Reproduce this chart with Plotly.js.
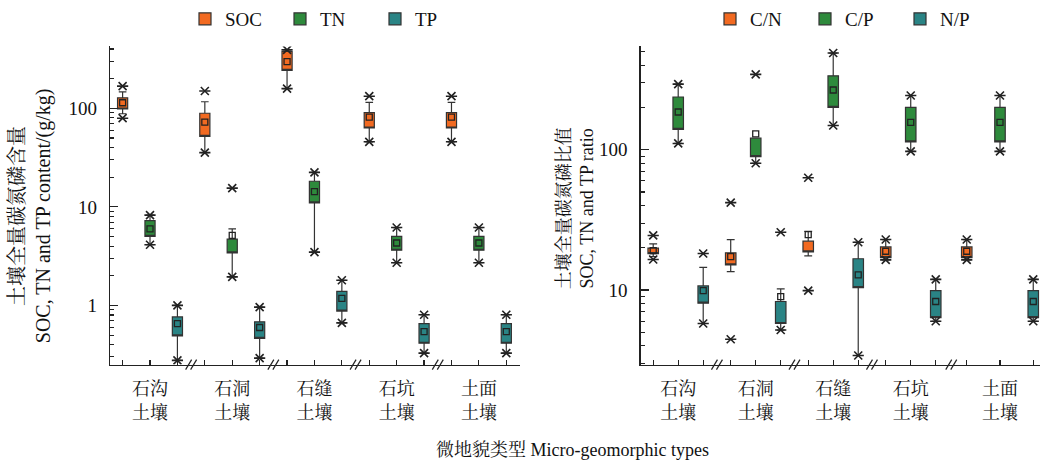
<!DOCTYPE html>
<html><head><meta charset="utf-8">
<script src="https://cdn.plot.ly/plotly-3.0.1.min.js"></script>
<style>html,body{margin:0;padding:0;background:#fff}#chart{width:1044px;height:462px}</style>
</head><body><div id="chart"></div>
<script>
// ---------- categories ----------
const categories = ['石沟<br>土壤', '石洞<br>土壤', '石缝<br>土壤', '石坑<br>土壤', '土面<br>土壤'];
const leftSeries = ['SOC', 'TN', 'TP'];
const rightSeries = ['C/N', 'C/P', 'N/P'];

// ---------- left panel: content (g/kg) ----------
const socQ1   = [98.4, 52.0, 242, 63.1, 63.1];
const socQ3   = [127.6, 89.1, 377, 90.4, 90.4];
const socLow  = [88.0, 35.5, 158.5, 45.7, 45.7];
const socHigh = [146.6, 116.5, 392, 114.8, 114.8];
const socMean = [113.8, 72.4, 297, 81.3, 81.3];
const socMax  = [168, 150, 392, 132.7, 132.7];
const socMin  = [79.4, 35.5, 158.5, 45.7, 45.7];

const tnQ1   = [5.01, 3.41, 11.0, 3.63, 3.63];
const tnQ3   = [7.24, 4.71, 18.2, 5.01, 5.01];
const tnLow  = [4.13, 1.95, 3.47, 2.71, 2.71];
const tnHigh = [8.24, 5.97, 22.4, 6.17, 6.17];
const tnMean = [5.97, 5.13, 14.3, 4.30, 4.30];
const tnMax  = [8.24, 15.5, 22.4, 6.17, 6.17];
const tnMin  = [4.13, 1.95, 3.47, 2.71, 2.71];

const tpQ1   = [0.490, 0.464, 0.877, 0.413, 0.413];
const tpQ3   = [0.764, 0.681, 1.39, 0.655, 0.655];
const tpLow  = [0.277, 0.292, 0.665, 0.328, 0.328];
const tpHigh = [1.00, 0.96, 1.80, 0.805, 0.805];
const tpMean = [0.655, 0.597, 1.18, 0.541, 0.541];
const tpMax  = [1.00, 0.96, 1.80, 0.805, 0.805];
const tpMin  = [0.277, 0.292, 0.665, 0.328, 0.328];

// ---------- right panel: ratios ----------
const cnQ1   = [18.2, 15.1, 18.7, 17.0, 17.0];
const cnQ3   = [19.9, 18.4, 22.3, 20.3, 20.3];
const cnLow  = [17.3, 13.5, 17.5, 16.4, 16.4];
const cnHigh = [21.3, 22.9, 26.2, 22.9, 22.9];
const cnMean = [19.1, 17.3, 24.8, 18.9, 18.9];
const cnMax  = [24.5, 42.0, 63.2, 22.9, 22.9];
const cnMin  = [16.5, 4.45, 9.9, 16.4, 16.4];

const cpQ1   = [140, 89.3, 201, 114, 114];
const cpQ3   = [238, 121, 337, 201, 201];
const cpLow  = [111, 80.2, 149, 97.5, 97.5];
const cpHigh = [294, 121, 490, 244, 244];
const cpMean = [186, 130, 267, 157, 157];
const cpMax  = [294, 345, 490, 244, 244];
const cpMin  = [111, 80.2, 149, 97.5, 97.5];

const npQ1   = [8.06, 5.77, 10.4, 6.35, 6.35];
const npQ3   = [10.7, 8.28, 16.7, 9.9, 9.9];
const npLow  = [5.77, 5.18, 3.41, 5.98, 5.98];
const npHigh = [14.5, 10.2, 21.9, 11.9, 11.9];
const npMean = [9.9, 8.98, 12.8, 8.28, 8.28];
const npMax  = [18.2, 25.8, 21.9, 11.9, 11.9];
const npMin  = [5.77, 5.18, 3.41, 5.98, 5.98];

// ---------- styling ----------
const colors = ['#F26A21', '#2E8A3C', '#2A8485'];
const FONT = '"Liberation Serif", "Noto Serif CJK SC", "Noto Sans CJK SC", serif';
const INK = '#222';

// group layout (position on numeric x axis)
const leftPos = (g, k) => g * 3 + k;
const rightStart = [0, 3.1, 6.2, 9.3, 12.54];
const rightStep = [1, 1, 1, 1, 1.33];
const rightPos = (g, k) => rightStart[g] + k * rightStep[g];

const traces = [];
function addSeries(name, k, posFn, xa, ya, leg, color, q1, q3, lo, hi, mean, mx, mn, width) {
  const xs = categories.map((_, g) => posFn(g, k));
  traces.push({
    type: 'box', name: name, x: xs, q1: q1, median: q1, q3: q3,
    lowerfence: lo, upperfence: hi, boxpoints: false, width: width,
    whiskerwidth: 0.75, fillcolor: color, line: {color: '#333', width: 1.2},
    xaxis: xa, yaxis: ya, legend: leg, hoverinfo: 'skip'
  });
  traces.push({
    type: 'scatter', mode: 'markers', x: xs, y: mean, showlegend: false,
    marker: {symbol: 'square-open', size: 6, color: INK, line: {width: 1.3, color: INK}},
    xaxis: xa, yaxis: ya, hoverinfo: 'skip'
  });
  const sx = xs.concat(xs), sy = mx.concat(mn);
  traces.push({
    type: 'scatter', mode: 'markers', x: sx, y: sy, showlegend: false,
    marker: {symbol: 'x-thin-open', size: 8, color: INK, line: {width: 1.6, color: INK}},
    xaxis: xa, yaxis: ya, hoverinfo: 'skip'
  });
  traces.push({
    type: 'scatter', mode: 'markers', x: sx, y: sy, showlegend: false,
    marker: {symbol: 'line-ew-open', size: 8, color: INK, line: {width: 1.6, color: INK}},
    xaxis: xa, yaxis: ya, hoverinfo: 'skip'
  });
}

addSeries(leftSeries[0], 0, leftPos, 'x', 'y', 'legend', colors[0], socQ1, socQ3, socLow, socHigh, socMean, socMax, socMin, 0.37);
addSeries(leftSeries[1], 1, leftPos, 'x', 'y', 'legend', colors[1], tnQ1, tnQ3, tnLow, tnHigh, tnMean, tnMax, tnMin, 0.37);
addSeries(leftSeries[2], 2, leftPos, 'x', 'y', 'legend', colors[2], tpQ1, tpQ3, tpLow, tpHigh, tpMean, tpMax, tpMin, 0.37);
addSeries(rightSeries[0], 0, rightPos, 'x2', 'y2', 'legend2', colors[0], cnQ1, cnQ3, cnLow, cnHigh, cnMean, cnMax, cnMin, 0.42);
addSeries(rightSeries[1], 1, rightPos, 'x2', 'y2', 'legend2', colors[1], cpQ1, cpQ3, cpLow, cpHigh, cpMean, cpMax, cpMin, 0.42);
addSeries(rightSeries[2], 2, rightPos, 'x2', 'y2', 'legend2', colors[2], npQ1, npQ3, npLow, npHigh, npMean, npMax, npMin, 0.42);

// ticks
function xTicks(posFn) {
  const vals = [], text = [];
  categories.forEach((c, g) => { for (let k = 0; k < 3; k++) { vals.push(posFn(g, k)); text.push(k === 1 ? c : ''); } });
  return {vals, text};
}
const lt = xTicks(leftPos), rt = xTicks(rightPos);

const W = 1044, H = 462;
const yDom = [1 - 363.3 / H, 1 - 41 / H];
const common = {
  showline: true, linecolor: '#222', linewidth: 1.3, mirror: false, showgrid: false, zeroline: false,
  ticks: 'inside', tickcolor: '#222', tickwidth: 1.2, tickfont: {family: FONT, size: 19, color: '#111'}
};
const xBase = Object.assign({}, common, {tickmode: 'array', ticklen: 5, tickfont: {family: FONT, size: 18, color: '#111'}, ticklabelstandoff: 8});
const yBase = Object.assign({}, common, {type: 'log', tickmode: 'array', ticklen: 8, ticklabelstandoff: 8});

function minorVals(lo, hi) {
  const out = [];
  for (let d = lo; d <= hi; d++) for (let m = 2; m <= 9; m++) out.push(m * Math.pow(10, d));
  return out;
}

// axis-break marks between groups
const shapes = [];
function addBreaks(xref, posFn) {
  for (let g = 0; g < categories.length - 1; g++) {
    const b = (posFn(g, 2) + posFn(g + 1, 0)) / 2;
    [-2.5, 2.5].forEach(off => shapes.push({
      type: 'line', xref: xref, yref: 'paper', xsizemode: 'pixel', ysizemode: 'pixel',
      xanchor: b, yanchor: yDom[0], x0: off - 3, x1: off + 3, y0: -5, y1: 5,
      line: {color: '#222', width: 1.2}
    }));
  }
}
addBreaks('x', leftPos);
addBreaks('x2', rightPos);

const legendFont = {family: FONT, size: 19, color: '#111'};
const layout = {
  width: W, height: H, margin: {l: 0, r: 0, t: 0, b: 0},
  paper_bgcolor: '#fff', plot_bgcolor: '#fff', boxmode: 'overlay',
  font: {family: FONT, color: '#111'},
  xaxis: Object.assign({}, xBase, {domain: [110 / W, 520 / W], range: [-0.46, 14.5], tickvals: lt.vals, ticktext: lt.text, anchor: 'y'}),
  yaxis: Object.assign({}, yBase, {domain: yDom, range: [Math.log10(0.251), Math.log10(424)], tickvals: [1, 10, 100], ticktext: ['1', '10', '100'], anchor: 'x',
    minor: {tickmode: 'array', tickvals: minorVals(-1, 2).filter(v => v >= 0.25 && v <= 424), ticks: 'inside', ticklen: 4, tickcolor: '#222', tickwidth: 1.1}}),
  xaxis2: Object.assign({}, xBase, {domain: [640.7 / W, 1040 / W], range: [-0.5, 15.47], tickvals: rt.vals, ticktext: rt.text, anchor: 'y2'}),
  yaxis2: Object.assign({}, yBase, {domain: yDom, range: [0.468, 2.737], tickvals: [10, 100], ticktext: ['10', '100'], anchor: 'x2',
    minor: {tickmode: 'array', tickvals: minorVals(0, 2).filter(v => v >= 2.9 && v <= 546), ticks: 'inside', ticklen: 4, tickcolor: '#222', tickwidth: 1.1}}),
  legend: {orientation: 'h', x: 185 / W, y: 1 - 13 / H, xanchor: 'left', yanchor: 'middle', font: legendFont, bgcolor: 'rgba(0,0,0,0)', entrywidth: 50},
  legend2: {orientation: 'h', x: 710 / W, y: 1 - 13 / H, xanchor: 'left', yanchor: 'middle', font: legendFont, bgcolor: 'rgba(0,0,0,0)', entrywidth: 50},
  shapes: shapes,
  annotations: [
    {text: '土壤全量碳氮磷含量<br>SOC, TN and TP content/(g/kg)', textangle: -90, xref: 'paper', yref: 'paper',
     x: 30 / W, y: 1 - 213 / H, xanchor: 'center', yanchor: 'middle', showarrow: false, font: {family: FONT, size: 20, color: '#111'}},
    {text: '土壤全量碳氮磷比值<br>SOC, TN and TP ratio', textangle: -90, xref: 'paper', yref: 'paper',
     x: 575 / W, y: 1 - 205 / H, xanchor: 'center', yanchor: 'middle', showarrow: false, font: {family: FONT, size: 18, color: '#111'}},
    {text: '微地貌类型 Micro-geomorphic types', xref: 'paper', yref: 'paper',
     x: 572 / W, y: 1 - 450 / H, xanchor: 'center', yanchor: 'middle', showarrow: false, font: {family: FONT, size: 18, color: '#111'}}
  ]
};

Plotly.newPlot('chart', traces, layout, {staticPlot: true, displayModeBar: false});
</script>
</body></html>
